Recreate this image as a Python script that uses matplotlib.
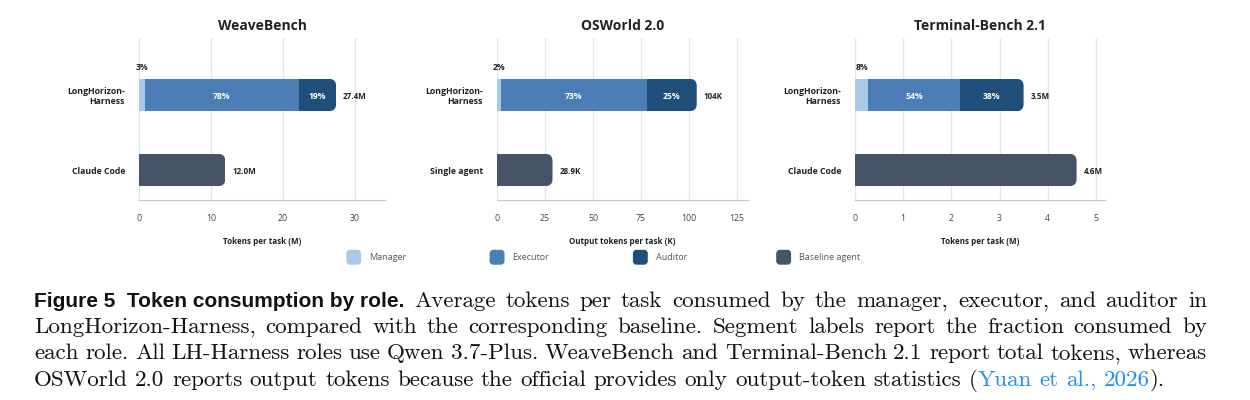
import matplotlib
matplotlib.use('Agg')
import matplotlib.pyplot as plt
from matplotlib.patches import FancyBboxPatch
from matplotlib.transforms import ScaledTranslation

# data
benchmarks = ['WeaveBench', 'OSWorld 2.0', 'Terminal-Bench 2.1']
baseline_names = ['Claude Code', 'Single agent', 'Claude Code']
xlabels = ['Tokens per task (M)', 'Output tokens per task (K)', 'Tokens per task (M)']
units = ['M', 'K', 'M']
lh_totals = [27.4, 104, 3.5]
baseline_totals = [12.0, 28.9, 4.6]
manager_pct = [3, 2, 8]
executor_pct = [78, 73, 54]
auditor_pct = [19, 25, 38]
xticks = [[0, 10, 20, 30], [0, 25, 50, 75, 100, 125], [0, 1, 2, 3, 4, 5]]
xmax = [34.2, 130.7, 5.19]

roles = ['Manager', 'Executor', 'Auditor', 'Baseline agent']
colors = ['#a9c9e9', '#4a7eb5', '#1f4e7a', '#465468']

W, H = 1250, 400
fig = plt.figure(figsize=(W / 100, H / 100), dpi=100)
plt.rcParams['font.family'] = ['Open Sans', 'DejaVu Sans']

positions = [[0.1112, 0.5, 0.1968, 0.405],
             [0.3976, 0.5, 0.2008, 0.405],
             [0.684, 0.5, 0.2, 0.405]]
ylo, yhi = 1.4, -0.76
bar_h = 0.43
radius_px = 7

for i in range(3):
    ax = fig.add_axes(positions[i])
    ax.set_xlim(0, xmax[i])
    ax.set_ylim(ylo, yhi)
    px_x = positions[i][2] * W / xmax[i]
    px_y = positions[i][3] * H / (ylo - yhi)
    r = radius_px / px_x
    asp = px_x / px_y

    total = lh_totals[i]
    parts = [manager_pct[i], executor_pct[i], auditor_pct[i]]
    left = 0
    clip = FancyBboxPatch((-2 * r, 0 - bar_h / 2), total + 2 * r, bar_h,
                          boxstyle=f'round,pad=0,rounding_size={r}',
                          mutation_aspect=asp, transform=ax.transData)
    for k, p in enumerate(parts):
        w = total * p / 100
        b = ax.barh(0, w, left=left, height=bar_h, color=colors[k], zorder=2)
        b[0].set_clip_path(clip)
        if k == 0:
            ax.text(left + w / 2, -0.36, f'{p}%', ha='center', va='center',
                    fontsize=6.2, fontweight='bold', color='#222222')
        else:
            ax.text(left + w / 2, 0.02, f'{p}%', ha='center', va='center',
                    fontsize=6.2, fontweight='bold', color='white', zorder=3)
        left += w

    bt = baseline_totals[i]
    clip2 = FancyBboxPatch((-2 * r, 1 - bar_h / 2), bt + 2 * r, bar_h,
                           boxstyle=f'round,pad=0,rounding_size={r}',
                           mutation_aspect=asp, transform=ax.transData)
    b = ax.barh(1, bt, height=bar_h, color=colors[3], zorder=2)
    b[0].set_clip_path(clip2)

    for yy, v in [(0, total), (1, bt)]:
        txt = (f'{v:.0f}' if v >= 100 else f'{v:.1f}') + units[i]
        ax.annotate(txt, (v, yy + 0.02), xytext=(5, 0), textcoords='offset points',
                    ha='left', va='center', fontsize=5.8, fontweight='bold',
                    color='#222222')

    ax.set_yticks([0, 1])
    ax.set_yticklabels(['LongHorizon-\nHarness', baseline_names[i]],
                       fontsize=6.3, fontweight='bold', color='#222222')
    shift = ScaledTranslation(0, -0.06, fig.dpi_scale_trans)
    for lab in ax.get_yticklabels():
        lab.set_transform(lab.get_transform() + shift)
    ax.set_xticks(xticks[i])
    ax.tick_params(axis='both', length=0)
    ax.tick_params(axis='x', pad=10, labelsize=6.3, labelcolor='#444444')
    ax.tick_params(axis='y', pad=10)
    ax.grid(axis='x', color='#e3e7eb', linewidth=1)
    ax.set_axisbelow(True)
    for s in ['top', 'right', 'left']:
        ax.spines[s].set_visible(False)
    ax.spines['bottom'].set_color('#c3c7cc')
    ax.set_xlabel(xlabels[i], fontsize=5.8, fontweight='bold', color='#222222',
                  labelpad=10)
    ax.set_title(benchmarks[i], fontsize=10, fontweight='bold', color='#222222', pad=6)

# legend row
for k, name in enumerate(roles):
    x0 = 347 + 143.3 * k
    patch = FancyBboxPatch((x0 / 100, (H - 264) / 100), 0.135, 0.135,
                           boxstyle='round,pad=0,rounding_size=0.03',
                           color=colors[k], transform=fig.dpi_scale_trans)
    fig.add_artist(patch)
    fig.text((x0 + 22) / W, 1 - 257.5 / H, name, va='center', fontsize=6.5,
             color='#555555')

# caption, justified line by line (bold lead-in kept as one piece)
caption_lines = [
    [('Figure 5  Token consumption by role.', 'bold'), (' ', 'rm'),
     ('Average tokens per task consumed by the manager, executor, and auditor in', 'rm')],
    [('LongHorizon-Harness, compared with the corresponding baseline. Segment labels report the fraction consumed by', 'rm')],
    [('each role. All LH-Harness roles use Qwen 3.7-Plus. WeaveBench and Terminal-Bench 2.1 report total tokens, whereas', 'rm')],
    [('OSWorld 2.0 reports output tokens because the official provides only output-token statistics (', 'rm'),
     ('Yuan et al., 2026', 'link'), (').', 'rm')],
]
baselines = [306.7, 333, 359.3, 385.6]
right_edges = [1207, 1207, 1207, 1165]
styles = {
    'rm': dict(family='cmr10', fontsize=16.6, color='#111111'),
    'link': dict(family='cmr10', fontsize=16.6, color='#1f8ff0'),
    'bold': dict(family='Liberation Sans', fontweight='bold', fontsize=15, color='#111111'),
}
x_left = 34
renderer = fig.canvas.get_renderer()


def width_of(s, st):
    t = fig.text(0, 0, s, **styles[st])
    w = t.get_window_extent(renderer).width
    t.remove()
    return w


for li, segs in enumerate(caption_lines):
    words = [[]]
    for text, st in segs:
        if st == 'bold':
            words[-1].append((text, st))
            continue
        pieces = text.split(' ')
        for k, p in enumerate(pieces):
            if k > 0:
                words.append([])
            if p:
                words[-1].append((p, st))
    words = [w for w in words if w]
    widths = [[width_of(p, st) for p, st in w] for w in words]
    totals = [sum(w) for w in widths]
    gap = (right_edges[li] - x_left - sum(totals)) / (len(words) - 1)
    x = x_left
    for w, ws in zip(words, widths):
        xx = x
        for (p, st), pw in zip(w, ws):
            fig.text(xx / W, 1 - baselines[li] / H, p, va='baseline', ha='left', **styles[st])
            xx += pw
        x += sum(ws) + gap

fig.savefig('out.png', dpi=100)
